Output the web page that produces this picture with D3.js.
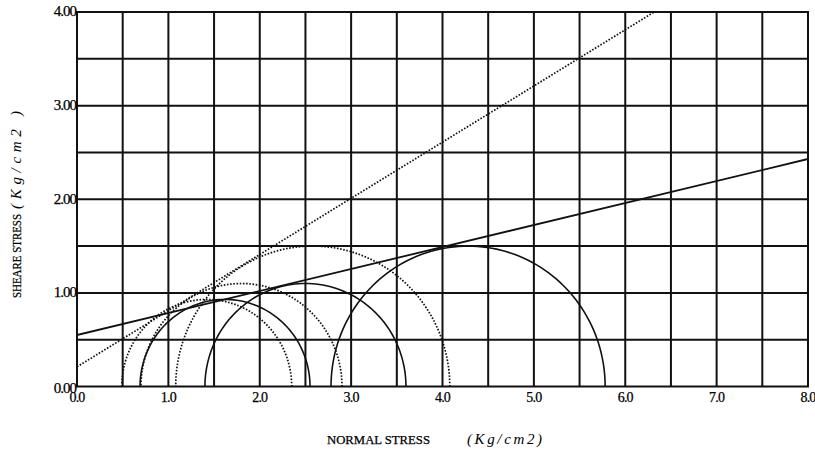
<!DOCTYPE html>
<html>
<head>
<meta charset="utf-8">
<script src="https://cdn.jsdelivr.net/npm/d3@7"></script>
<style>
  body { margin: 0; background: #fff; }
  text { font-family: "Liberation Serif", "DejaVu Serif", serif; fill: #000; stroke: #000; stroke-width: 0.25; }
  tspan.unit { stroke-width: 0; }
</style>
</head>
<body>
<svg id="chart" width="815" height="452"></svg>
<script>
// axis ticks
let xTicks = [0, 1, 2, 3, 4, 5, 6, 7, 8];
let yTicks = [0, 1, 2, 3, 4];
let gridStep = 0.5;

// mohr circles (center, radius) in Kg/cm2
let solidCenters = [1.62, 2.5, 4.28];
let solidRadii = [0.93, 1.1, 1.5];
let dottedCenters = [1.42, 1.8, 2.58];
let dottedRadii = [0.93, 1.1, 1.5];

// failure envelopes: [intercept, slope]
let solidEnvelope = [0.55, 0.235];
let dottedEnvelope = [0.21, 0.60];

let svg = d3.select('#chart');
let x = d3.scaleLinear().domain([0, 8]).range([77, 808]);
let y = d3.scaleLinear().domain([0, 4]).range([386.5, 12]);

svg.append('defs').append('clipPath').attr('id', 'plot')
    .append('rect')
    .attr('x', x(0)).attr('y', y(4))
    .attr('width', x(8) - x(0)).attr('height', y(0) - y(4));

// grid every 0.5
let gx = d3.range(0, 8 + 0.001, gridStep);
let gy = d3.range(0, 4 + 0.001, gridStep);
let grid = svg.append('g').attr('stroke', '#111').attr('stroke-width', 2);
grid.selectAll('line.v').data(gx).enter().append('line')
    .attr('class', 'v')
    .attr('x1', d => x(d)).attr('x2', d => x(d))
    .attr('y1', y(0)).attr('y2', y(4));
grid.selectAll('line.h').data(gy).enter().append('line')
    .attr('class', 'h')
    .attr('x1', x(0) - 1).attr('x2', x(8) + 1)
    .attr('y1', d => y(d)).attr('y2', d => y(d));

// tick labels
svg.append('g').selectAll('text').data(yTicks).enter().append('text')
    .attr('x', x(0) - 1)
    .attr('y', d => y(d) + (d === 0 ? 3 : 1))
    .attr('text-anchor', 'end')
    .attr('dominant-baseline', 'middle')
    .attr('font-size', 15)
    .attr('letter-spacing', -1)
    .text(d => d.toFixed(2));
svg.append('g').selectAll('text').data(xTicks).enter().append('text')
    .attr('x', d => x(d))
    .attr('y', y(0) + 12)
    .attr('text-anchor', 'middle')
    .attr('dominant-baseline', 'middle')
    .attr('font-size', 14)
    .attr('letter-spacing', -0.8)
    .text(d => d.toFixed(1));

// axis titles
let xt = svg.append('text').attr('y', 441).attr('dominant-baseline', 'middle');
xt.append('tspan').attr('x', 327).attr('font-size', 12)
    .attr('textLength', 103).attr('lengthAdjust', 'spacingAndGlyphs').text('NORMAL STRESS');
xt.append('tspan').attr('class', 'unit').attr('x', 467).attr('font-size', 15).attr('font-style', 'italic')
    .attr('textLength', 75).attr('lengthAdjust', 'spacing').text('(Kg/cm2)');

let yt = svg.append('text')
    .attr('transform', 'translate(18,298) rotate(-90)')
    .attr('dominant-baseline', 'middle');
yt.append('tspan').attr('x', 0).attr('font-size', 12)
    .attr('textLength', 84).attr('lengthAdjust', 'spacingAndGlyphs').text('SHEARE STRESS');
yt.append('tspan').attr('class', 'unit').attr('x', 89).attr('font-size', 15).attr('font-style', 'italic')
    .attr('textLength', 98).attr('lengthAdjust', 'spacing').text('(Kg/cm2 )');

// circles and envelopes
let plot = svg.append('g').attr('clip-path', 'url(#plot)').attr('fill', 'none').attr('stroke', '#111');

let angles = d3.range(0, 181, 2).map(a => a * Math.PI / 180);
let semi = (c, r) => d3.line()
    .x(a => x(c + r * Math.cos(a)))
    .y(a => y(r * Math.sin(a)))(angles);

solidCenters.forEach((c, i) => {
    plot.append('path').attr('d', semi(c, solidRadii[i])).attr('stroke-width', 1.6);
});
dottedCenters.forEach((c, i) => {
    plot.append('path').attr('d', semi(c, dottedRadii[i]))
        .attr('stroke-width', 1.7).attr('stroke-dasharray', '1.6,1.6');
});

let envLine = e => d3.line().x(d => x(d)).y(d => y(e[0] + e[1] * d))([0, 8]);
plot.append('path').attr('d', envLine(solidEnvelope)).attr('stroke-width', 1.8);
plot.append('path').attr('d', envLine(dottedEnvelope))
    .attr('stroke-width', 1.7).attr('stroke-dasharray', '1.6,1.6');
</script>
</body>
</html>
